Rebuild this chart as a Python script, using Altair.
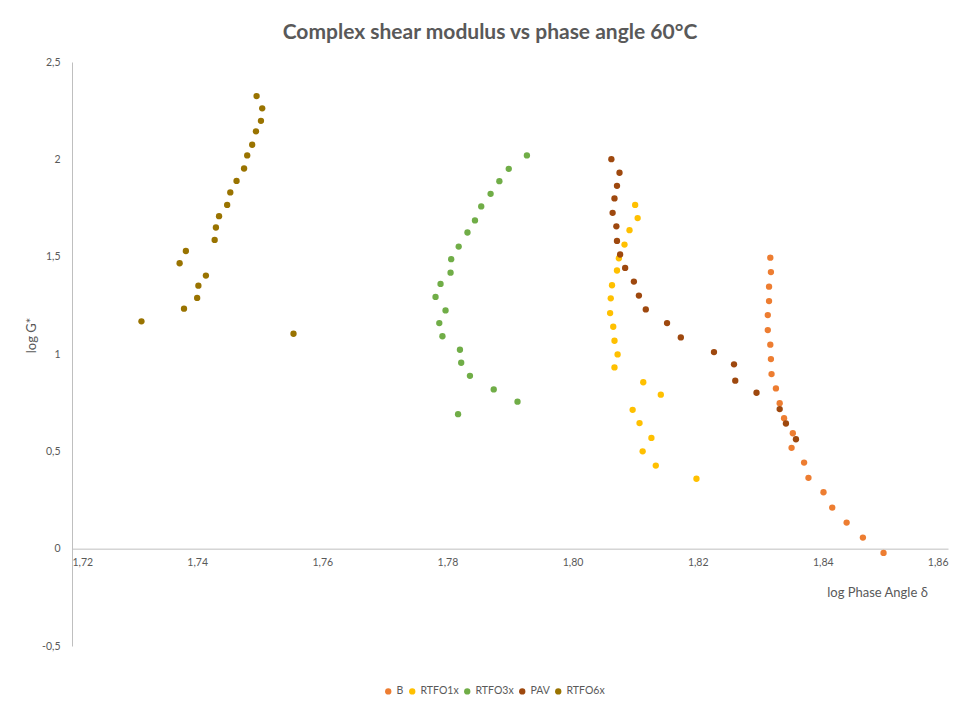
import altair as alt
import pandas as pd

series_names = ["B", "RTFO1x", "RTFO3x", "PAV", "RTFO6x"]
series_colors = ["#ED7D31", "#FFC000", "#70AD47", "#9E480E", "#997300"]

b_x = [1.8316, 1.8317, 1.8314, 1.8314, 1.8312, 1.8312, 1.8316, 1.8317, 1.8318, 1.8325,
       1.8331, 1.8338, 1.8352, 1.8350, 1.8370, 1.8377, 1.8401, 1.8415, 1.8438, 1.8464, 1.8497]
b_y = [1.495, 1.421, 1.346, 1.272, 1.200, 1.123, 1.048, 0.974, 0.897, 0.823,
       0.747, 0.670, 0.593, 0.518, 0.442, 0.364, 0.290, 0.211, 0.134, 0.057, -0.022]

r1_x = [1.8100, 1.8104, 1.8091, 1.8083, 1.8074, 1.8071, 1.8063, 1.8061, 1.8060, 1.8065,
        1.8067, 1.8072, 1.8067, 1.8113, 1.8141, 1.8096, 1.8107, 1.8126, 1.8112, 1.8133, 1.8198]
r1_y = [1.766, 1.698, 1.636, 1.562, 1.492, 1.429, 1.353, 1.286, 1.210, 1.140,
        1.068, 0.998, 0.931, 0.855, 0.791, 0.713, 0.645, 0.569, 0.500, 0.427, 0.359]

r3_x = [1.7927, 1.7898, 1.7883, 1.7869, 1.7854, 1.7844, 1.7832, 1.7818, 1.7806, 1.7805,
        1.7789, 1.7781, 1.7797, 1.7787, 1.7792, 1.7820, 1.7822, 1.7836, 1.7874, 1.7912, 1.7817]
r3_y = [2.020, 1.951, 1.888, 1.823, 1.758, 1.686, 1.624, 1.552, 1.487, 1.418,
        1.360, 1.293, 1.224, 1.159, 1.091, 1.022, 0.955, 0.888, 0.818, 0.755, 0.691]

pav_x = [1.8062, 1.8075, 1.8071, 1.8067, 1.8064, 1.8070, 1.8071, 1.8076, 1.8084, 1.8098,
         1.8106, 1.8117, 1.8151, 1.8173, 1.8226, 1.8258, 1.8260, 1.8294, 1.8331, 1.8341, 1.8357]
pav_y = [2.001, 1.931, 1.864, 1.799, 1.725, 1.656, 1.581, 1.511, 1.442, 1.372,
         1.300, 1.229, 1.159, 1.085, 1.010, 0.947, 0.863, 0.801, 0.717, 0.643, 0.562]

r6_x = [1.7495, 1.7504, 1.7502, 1.7494, 1.7488, 1.7480, 1.7475, 1.7463, 1.7453, 1.7448,
        1.7435, 1.7430, 1.7428, 1.7382, 1.7372, 1.7414, 1.7402, 1.7400, 1.7379, 1.7311, 1.7554]
r6_y = [2.325, 2.262, 2.198, 2.144, 2.075, 2.020, 1.953, 1.889, 1.830, 1.766,
        1.708, 1.650, 1.586, 1.529, 1.466, 1.403, 1.351, 1.288, 1.233, 1.168, 1.104]

x_ticks = [1.72, 1.74, 1.76, 1.78, 1.80, 1.82, 1.84, 1.86]
y_ticks = [-0.5, 0, 0.5, 1, 1.5, 2, 2.5]

rows = []
for name, xs, ys in zip(series_names,
                        [b_x, r1_x, r3_x, pav_x, r6_x],
                        [b_y, r1_y, r3_y, pav_y, r6_y]):
    for xv, yv in zip(xs, ys):
        rows.append({"x": xv, "y": yv, "series": name})
df = pd.DataFrame(rows)

W, H = 876, 584
FONT = "Lato"
GRAY = "#595959"
x_offset = -H * (0 - y_ticks[0]) / (y_ticks[-1] - y_ticks[0])

chart = alt.Chart(df).mark_circle(size=40, opacity=1).encode(
    x=alt.X("x:Q",
            scale=alt.Scale(domain=[x_ticks[0], x_ticks[-1]], nice=False, zero=False),
            axis=alt.Axis(values=x_ticks, title="log Phase Angle δ", offset=x_offset,
                          ticks=False, grid=False, domainColor="#BFBFBF",
                          labelExpr="replace(format(datum.value, '.2f'), '.', ',')",
                          labelFont=FONT, labelFontSize=10.5, labelColor=GRAY, labelPadding=9,
                          titleFont=FONT, titleFontSize=13, titleFontWeight="normal",
                          titleColor=GRAY, titleX=805, titleY=38, titleAlign="center",
                          titleBaseline="top")),
    y=alt.Y("y:Q",
            scale=alt.Scale(domain=[y_ticks[0], y_ticks[-1]], nice=False, zero=False),
            axis=alt.Axis(values=y_ticks, title="log G*", ticks=False, grid=False,
                          domainColor="#BFBFBF",
                          labelExpr="replace(toString(datum.value), '.', ',')",
                          labelFont=FONT, labelFontSize=10.5, labelColor=GRAY, labelPadding=12,
                          titleFont=FONT, titleFontSize=13, titleFontWeight="normal",
                          titleColor=GRAY, titleX=-41, titleY=273, titleAngle=-90,
                          titleAlign="center", titleBaseline="middle")),
    color=alt.Color("series:N",
                    scale=alt.Scale(domain=series_names, range=series_colors),
                    legend=alt.Legend(title=None, orient="none", direction="horizontal",
                                      legendX=311, legendY=624, symbolType="circle",
                                      symbolSize=40, labelFont=FONT, labelFontSize=10.5,
                                      labelColor=GRAY, columnPadding=3, labelOffset=3)),
).properties(
    width=W, height=H,
    title=alt.TitleParams("Complex shear modulus vs phase angle 60°C", font=FONT,
                          fontSize=21, fontWeight="bold", color=GRAY, anchor="middle",
                          frame="group", dx=-20, offset=14),
    autosize=alt.AutoSizeParams(type="none"),
    padding={"left": 64, "top": 54, "right": 7, "bottom": 50},
).configure_view(stroke=None)

chart.save("out.html", embed_options={"renderer": "svg", "actions": False})
